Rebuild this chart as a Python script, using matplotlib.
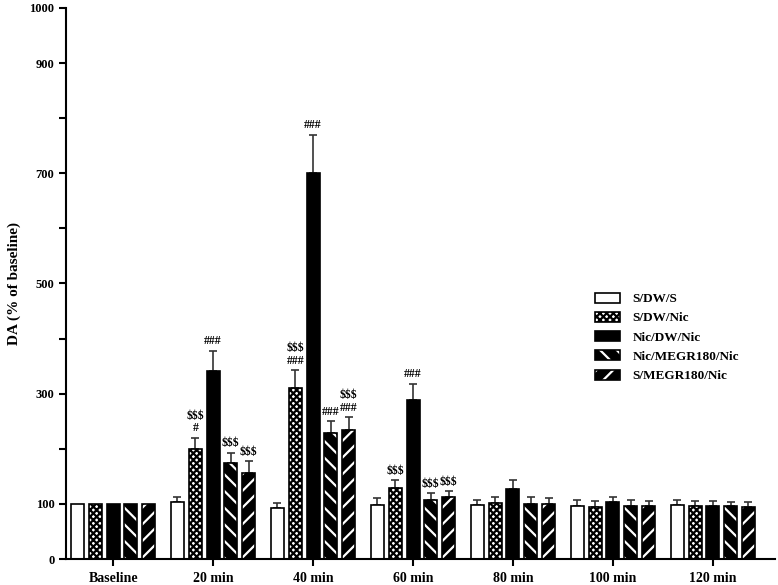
import numpy as np
import matplotlib
matplotlib.use('Agg')
import matplotlib.pyplot as plt
from matplotlib.patches import Patch
from matplotlib.legend_handler import HandlerTuple

plt.rcParams['font.family'] = ['Liberation Serif', 'DejaVu Serif']
plt.rcParams['font.weight'] = 'bold'
plt.rcParams['hatch.linewidth'] = 1.6

groups = ['Baseline', '20 min', '40 min', '60 min', '80 min', '100 min', '120 min']
series = ['S/DW/S', 'S/DW/Nic', 'Nic/DW/Nic', 'Nic/MEGR180/Nic', 'S/MEGR180/Nic']

s_dw_s = [100, 103, 92, 98, 98, 97, 98]
s_dw_s_err = [0, 10, 10, 12, 10, 10, 10]
s_dw_nic = [100, 200, 311, 128, 102, 95, 97]
s_dw_nic_err = [0, 20, 32, 15, 10, 10, 9]
nic_dw_nic = [100, 342, 700, 288, 127, 103, 97]
nic_dw_nic_err = [0, 36, 70, 30, 17, 10, 8]
nic_megr_nic = [100, 175, 228, 108, 100, 97, 96]
nic_megr_nic_err = [0, 18, 22, 12, 12, 10, 8]
s_megr_nic = [100, 157, 235, 113, 100, 96, 95]
s_megr_nic_err = [0, 20, 22, 10, 10, 10, 8]

s_dw_nic_marks = ['', '$$$\n#', '$$$\n###', '$$$', '', '', '']
nic_dw_nic_marks = ['', '###', '###', '###', '', '', '']
nic_megr_nic_marks = ['', '$$$', '###', '$$$', '', '', '']
s_megr_nic_marks = ['', '$$$', '$$$\n###', '$$$', '', '', '']

values = [s_dw_s, s_dw_nic, nic_dw_nic, nic_megr_nic, s_megr_nic]
errors = [s_dw_s_err, s_dw_nic_err, nic_dw_nic_err, nic_megr_nic_err, s_megr_nic_err]
marks = [[''] * 7, s_dw_nic_marks, nic_dw_nic_marks, nic_megr_nic_marks, s_megr_nic_marks]

# fill style per series: (facecolor, hatchcolor, hatch)
styles = [('white', 'white', ''),
          ('white', 'black', 'xxxxx'),
          ('black', 'black', ''),
          ('black', 'white', '\\\\'),
          ('black', 'white', '//')]

fig = plt.figure(figsize=(7.78, 5.85), dpi=100)
ax = fig.add_axes([0.085, 0.0444, 0.911, 0.942])

x = np.arange(len(groups))
width = 0.13
pitch = 0.178
handles = []
for i, (vals, errs, mk, st) in enumerate(zip(values, errors, marks, styles)):
    pos = x + (i - 2) * pitch
    fc, hc, hatch = st
    ax.bar(pos, vals, width, color=fc, edgecolor=hc, hatch=hatch, linewidth=0, zorder=2)
    ax.bar(pos, vals, width, fill=False, edgecolor='black', linewidth=1.2, zorder=3)
    errs = np.array(errs)
    shown = errs > 0
    ax.errorbar(pos[shown], np.array(vals)[shown],
                yerr=[np.zeros(shown.sum()), errs[shown]],
                fmt='none', ecolor='#333333', elinewidth=1.2, capsize=3, capthick=1.2, zorder=1)
    for p, v, e, t in zip(pos, vals, errs, mk):
        if t:
            ax.text(p, v + e + 6, t, ha='center', va='bottom', fontsize=8.5,
                    fontweight='bold', linespacing=1.1)
    h1 = Patch(facecolor=fc, edgecolor=hc, hatch=hatch, linewidth=0)
    h2 = Patch(fill=False, edgecolor='black', linewidth=1.2)
    handles.append((h1, h2))

ax.set_xlim(-0.47, 6.62)
ax.set_ylim(0, 1000)
ax.set_xticks(x)
ax.set_xticklabels(groups, fontsize=10, fontweight='bold')
yt = [0, 100, 200, 300, 400, 500, 600, 700, 800, 900, 1000]
ax.set_yticks(yt)
ax.set_yticklabels(['0', '100', '', '300', '', '500', '', '700', '', '900', '1000'],
                   fontsize=9, fontweight='bold')
ax.tick_params(axis='both', direction='out', length=5, width=1.5)
ax.tick_params(axis='x', pad=4)
ax.set_ylabel('DA (% of baseline)', fontsize=11, fontweight='bold')
ax.yaxis.set_label_coords(-0.063, 0.5)
for s in ['top', 'right']:
    ax.spines[s].set_visible(False)
for s in ['left', 'bottom']:
    ax.spines[s].set_linewidth(1.5)

ax.legend(handles, series, handler_map={tuple: HandlerTuple(ndivide=1, pad=0)},
          loc='upper left', bbox_to_anchor=(0.73, 0.505), frameon=False,
          handlelength=1.9, handleheight=0.8, labelspacing=0.5,
          handletextpad=0.9, prop={'weight': 'bold', 'size': 9.5})

fig.savefig('out.png', dpi=100)
